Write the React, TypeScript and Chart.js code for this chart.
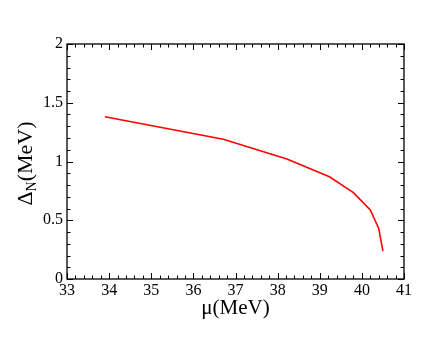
import React, { useEffect, useRef } from "react";
import { Chart, registerables } from "chart.js";

Chart.register(...registerables);

// Data
const muValues = [33.9, 36.71, 38.22, 39.23, 39.8, 40.2, 40.4, 40.5];
const deltaValues = [1.381, 1.189, 1.021, 0.87, 0.735, 0.587, 0.43, 0.238];

// Axis ranges and tick spacing
const xRange = [33, 41];
const yRange = [0, 2];
const xMajorStep = 1;
const xMinorStep = 0.2;
const yMajorStep = 0.5;
const yMinorStep = 0.1;

const xTitle = "μ(MeV)";
const yTitleMain = "Δ";
const yTitleSub = "N";
const yTitleRest = "(MeV)";

const FONT = "'Liberation Serif', 'Times New Roman', serif";

const framePlugin = {
  id: "framePlugin",
  afterDraw(chart: any) {
    const ctx = chart.ctx as CanvasRenderingContext2D;
    const { left, right, top, bottom } = chart.chartArea;
    const xs = chart.scales.x;
    const ys = chart.scales.y;
    ctx.save();
    ctx.strokeStyle = "#000";
    ctx.lineWidth = 1.3;
    ctx.strokeRect(left, top, right - left, bottom - top);

    ctx.lineWidth = 1;
    const major = 6;
    const minor = 3.5;
    // x ticks
    const nx = Math.round((xRange[1] - xRange[0]) / xMinorStep);
    for (let i = 0; i <= nx; i++) {
      const v = xRange[0] + i * xMinorStep;
      const isMajor = Math.abs(v / xMajorStep - Math.round(v / xMajorStep)) < 1e-6;
      const len = isMajor ? major : minor;
      const px = Math.round(xs.getPixelForValue(v)) + 0.5;
      ctx.beginPath();
      ctx.moveTo(px, bottom);
      ctx.lineTo(px, bottom - len);
      ctx.moveTo(px, top);
      ctx.lineTo(px, top + len);
      ctx.stroke();
    }
    // y ticks
    const ny = Math.round((yRange[1] - yRange[0]) / yMinorStep);
    for (let i = 0; i <= ny; i++) {
      const v = yRange[0] + i * yMinorStep;
      const isMajor = Math.abs(v / yMajorStep - Math.round(v / yMajorStep)) < 1e-6;
      const len = isMajor ? major : minor;
      const py = Math.round(ys.getPixelForValue(v)) + 0.5;
      ctx.beginPath();
      ctx.moveTo(left, py);
      ctx.lineTo(left + len, py);
      ctx.moveTo(right, py);
      ctx.lineTo(right - len, py);
      ctx.stroke();
    }

    // x title
    ctx.fillStyle = "#000";
    ctx.font = `21px ${FONT}`;
    ctx.textAlign = "center";
    ctx.textBaseline = "alphabetic";
    ctx.fillText(xTitle, (left + right) / 2, 314);

    // y title with subscript
    const mainFont = `22px ${FONT}`;
    const subFont = `14px ${FONT}`;
    ctx.font = mainFont;
    const wMain = ctx.measureText(yTitleMain).width;
    const wRest = ctx.measureText(yTitleRest).width;
    ctx.font = subFont;
    const wSub = ctx.measureText(yTitleSub).width;
    const total = wMain + wSub + wRest;
    ctx.translate(32, (top + bottom) / 2 + 2);
    ctx.rotate(-Math.PI / 2);
    ctx.textAlign = "left";
    let x0 = -total / 2;
    ctx.font = mainFont;
    ctx.fillText(yTitleMain, x0, 0);
    x0 += wMain;
    ctx.font = subFont;
    ctx.fillText(yTitleSub, x0, 4);
    x0 += wSub;
    ctx.font = mainFont;
    ctx.fillText(yTitleRest, x0, 0);
    ctx.restore();
  },
};

export default function App() {
  const canvasRef = useRef<HTMLCanvasElement | null>(null);

  useEffect(() => {
    if (!canvasRef.current) return;
    const chart = new Chart(canvasRef.current, {
      type: "line",
      data: {
        datasets: [
          {
            data: muValues.map((m, i) => ({ x: m, y: deltaValues[i] })),
            borderColor: "#ff0000",
            borderWidth: 1.6,
            pointRadius: 0,
            tension: 0,
            fill: false,
          },
        ],
      },
      options: {
        animation: false,
        responsive: false,
        devicePixelRatio: 1,
        layout: { padding: { top: 44, right: 32, left: 0, bottom: 0 } },
        plugins: {
          legend: { display: false },
          tooltip: { enabled: false },
        },
        scales: {
          x: {
            type: "linear",
            min: xRange[0],
            max: xRange[1],
            grid: { display: false, drawTicks: false },
            border: { display: false },
            afterFit: (s: any) => {
              s.height = 58;
            },
            ticks: {
              stepSize: xMajorStep,
              padding: 2,
              color: "#000",
              maxRotation: 0,
              font: { family: FONT, size: 16 },
            },
          },
          y: {
            type: "linear",
            min: yRange[0],
            max: yRange[1],
            grid: { display: false, drawTicks: false },
            border: { display: false },
            afterFit: (s: any) => {
              s.width = 67;
            },
            ticks: {
              stepSize: yMajorStep,
              padding: 4,
              color: "#000",
              font: { family: FONT, size: 16 },
              callback: (v: any) => String(Number(v)),
            },
          },
        },
      },
      plugins: [framePlugin],
    });
    return () => chart.destroy();
  }, []);

  return (
    <div style={{ position: "absolute", left: 0, top: 0, width: 436, height: 337, background: "#fff" }}>
      <canvas ref={canvasRef} width={436} height={337} />
    </div>
  );
}
